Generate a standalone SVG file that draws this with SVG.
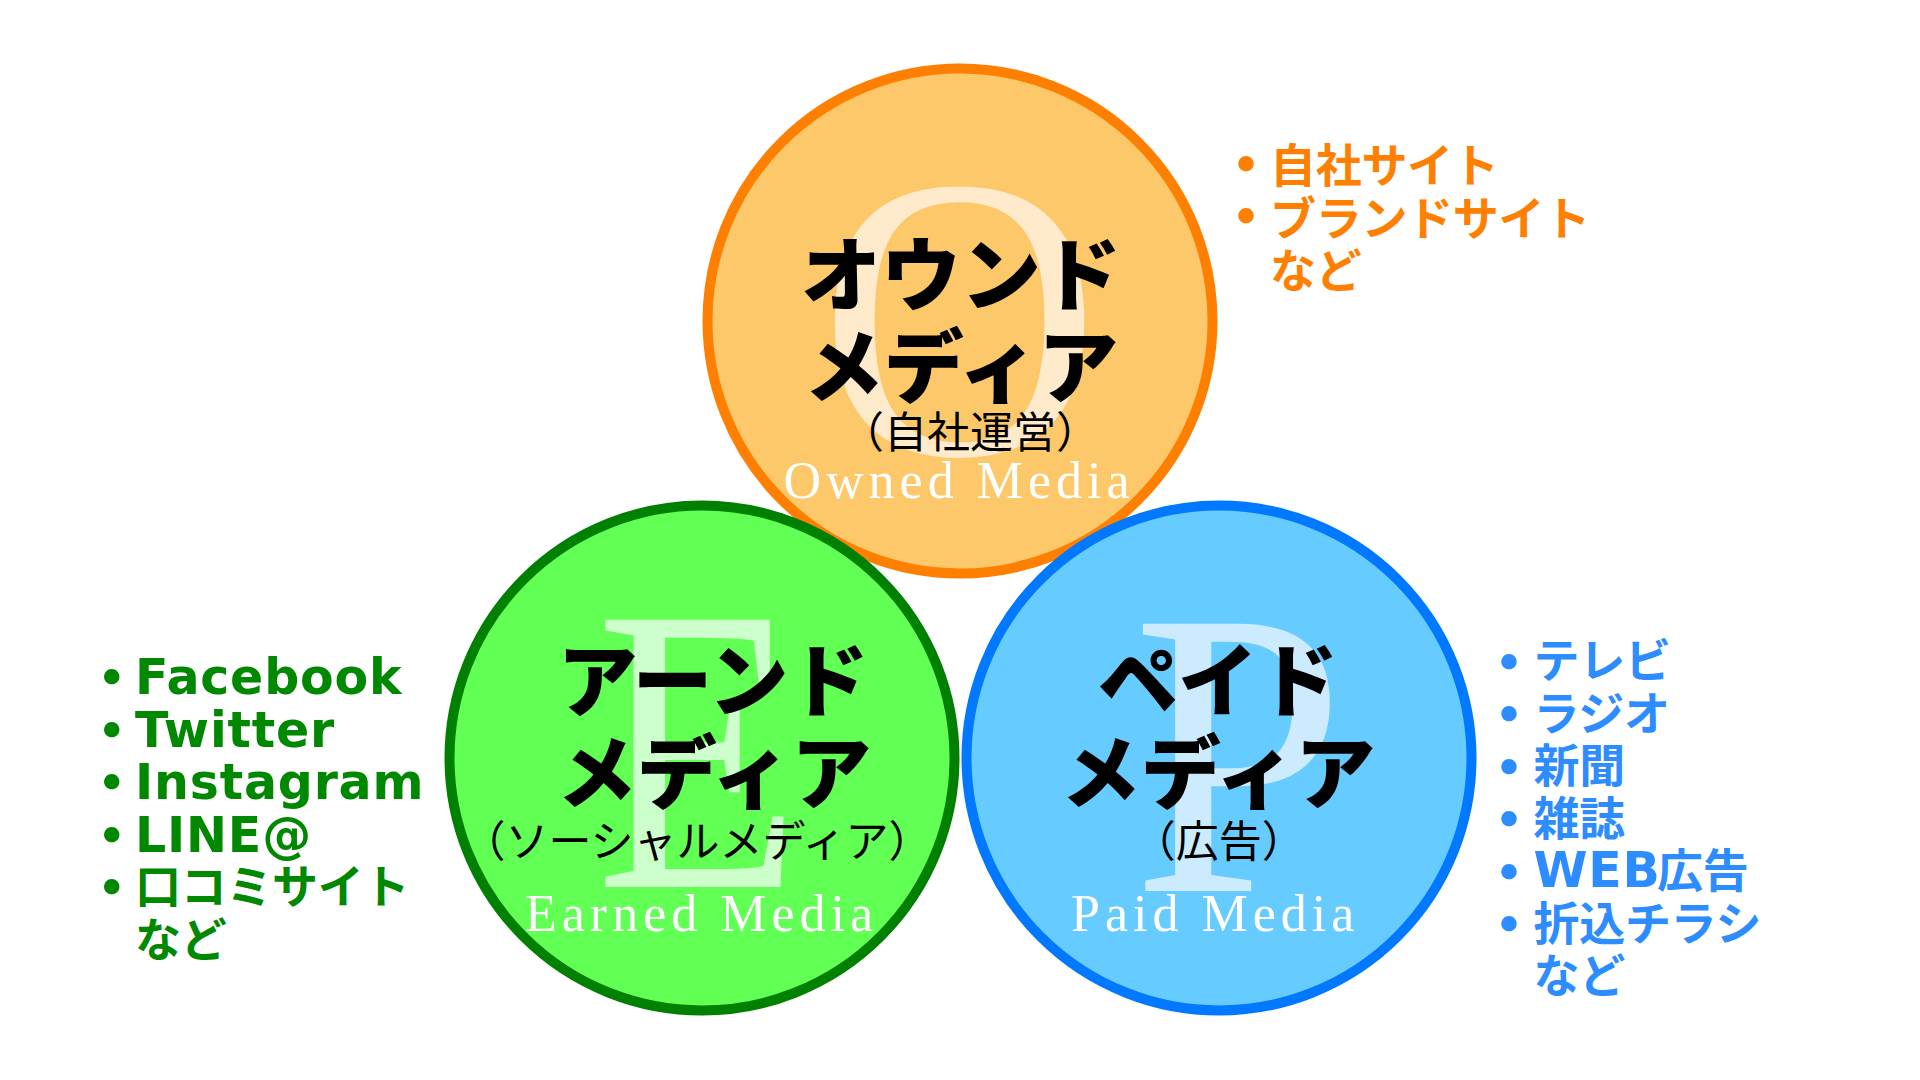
<svg xmlns="http://www.w3.org/2000/svg" width="1920" height="1080" viewBox="0 0 1920 1080">
<style>
.bg{fill:#ffffff}
.circ{stroke-width:10}
.big{font-family:"Liberation Serif","Times New Roman",serif;font-size:408px;text-anchor:middle}
.ttl{font-family:"Noto Sans CJK JP",sans-serif;font-weight:900;font-size:80px;fill:#000;text-anchor:middle}
.sub{font-family:"Noto Sans CJK JP",sans-serif;font-weight:400;font-size:43px;fill:#000;text-anchor:middle}
.en{font-family:"Liberation Serif","Times New Roman",serif;font-size:52px;fill:#ffffff;letter-spacing:5px}
.lst{font-family:"DejaVu Sans","Noto Sans CJK JP",sans-serif;font-weight:700}
.jp{font-family:"Noto Sans CJK JP",sans-serif;font-size:46px;letter-spacing:-0.3px}
.la{font-size:49px;letter-spacing:0.8px}
.bul{font-family:"Noto Sans CJK JP",sans-serif;font-weight:700;font-size:60px;text-anchor:middle}
.or{fill:#FF7F00}
.gr{fill:#008800}
.bl{fill:#2D8CFF}
</style>
<rect class="bg" x="0" y="0" width="1920" height="1080"/>

<g id="owned">
  <circle class="circ" cx="960" cy="321" r="252.5" fill="#FDC86A" stroke="#FF7F00"/>
  <text class="big" transform="translate(959.5,454) scale(0.955,0.99)" fill="#FFEBCC">O</text>
  <text class="ttl" x="961" y="304">オウンド</text>
  <text class="ttl" x="961" y="396">メディア</text>
  <text class="sub" x="970" y="448">（自社運営）</text>
  <text class="en" x="783.5" y="498">Owned Media</text>
</g>

<g id="earned">
  <circle class="circ" cx="702" cy="758" r="252.5" fill="#62FF55" stroke="#008000"/>
  <text class="big" transform="translate(698,887) scale(0.82,1)" fill="#CCFFCC">E</text>
  <text class="ttl" x="713" y="710">アーンド</text>
  <text class="ttl" x="714" y="802">メディア</text>
  <text class="sub" x="697" y="857">（ソーシャルメディア）</text>
  <text class="en" x="525" y="931">Earned Media</text>
</g>

<g id="paid">
  <circle class="circ" cx="1219" cy="758" r="252.5" fill="#66CCFF" stroke="#0078FF"/>
  <text class="big" transform="translate(1238.5,891) scale(0.94,1)" fill="#CCEBFF">P</text>
  <text class="ttl" x="1218" y="710">ペイド</text>
  <text class="ttl" x="1218" y="802">メディア</text>
  <text class="sub" x="1218.7" y="857">（広告）</text>
  <text class="en" x="1071" y="931">Paid Media</text>
</g>

<g id="owned-list" class="lst or">
  <text class="bul" x="1246" y="186.5">・</text>
  <text class="bul" x="1246" y="239">・</text>
  <text class="jp" x="1270" y="182">自社サイト</text>
  <text class="jp" x="1270" y="234.5">ブランドサイト</text>
  <text class="jp" x="1270" y="287">など</text>
</g>

<g id="earned-list" class="lst gr">
  <text class="bul" x="111.7" y="700">・</text>
  <text class="bul" x="111.7" y="752.5">・</text>
  <text class="bul" x="111.7" y="805">・</text>
  <text class="bul" x="111.7" y="857.5">・</text>
  <text class="bul" x="111.7" y="910">・</text>
  <text class="la" x="135" y="694">Facebook</text>
  <text class="la" x="135" y="746.5">Twitter</text>
  <text class="la" x="135" y="799">Instagram</text>
  <text class="la" x="135" y="851.5">LINE@</text>
  <text class="jp" x="135" y="903">口コミサイト</text>
  <text class="jp" x="135" y="955.5">など</text>
</g>

<g id="paid-list" class="lst bl">
  <text class="bul" x="1509" y="684.5">・</text>
  <text class="bul" x="1509" y="737">・</text>
  <text class="bul" x="1509" y="789.5">・</text>
  <text class="bul" x="1509" y="842">・</text>
  <text class="bul" x="1509" y="894.5">・</text>
  <text class="bul" x="1509" y="947">・</text>
  <text class="jp" x="1533.5" y="677">テレビ</text>
  <text class="jp" x="1533.5" y="729.5">ラジオ</text>
  <text class="jp" x="1533.5" y="782">新聞</text>
  <text class="jp" x="1533.5" y="834.5">雑誌</text>
  <text x="1533.5" y="887"><tspan class="la">WEB</tspan><tspan class="jp" x="1657">広告</tspan></text>
  <text class="jp" x="1533.5" y="939.5">折込チラシ</text>
  <text class="jp" x="1533.5" y="992">など</text>
</g>
</svg>
